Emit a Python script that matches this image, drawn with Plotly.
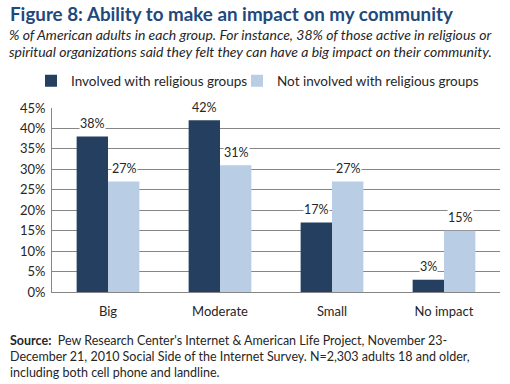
import plotly.graph_objects as go

categories = ["Big", "Moderate", "Small", "No impact"]
involved = [38, 42, 17, 3]
not_involved = [27, 31, 27, 15]
series_names = ["Involved with religious groups", "Not involved with religious groups"]
y_ticks = [0, 5, 10, 15, 20, 25, 30, 35, 40, 45]
y_tick_labels = [f"{v}%" for v in y_ticks]

title_text = "Figure 8: Ability to make an impact on my community"
subtitle_lines = [
    "% of American adults in each group. For instance, 38% of those active in religious or",
    "spiritual organizations said they felt they can have a big impact on their community.",
]
source_lines = [
    "<b>Source:</b>&nbsp; Pew Research Center's Internet &amp; American Life Project, November 23-",
    "December 21, 2010 Social Side of the Internet Survey. N=2,303 adults 18 and older,",
    "including both cell phone and landline.",
]

DARK = "#243F60"
LIGHT = "#B9CDE5"
FONT = "Lato, Open Sans, sans-serif"
TXT = "#262626"

fig = go.Figure()
fig.add_trace(go.Bar(x=categories, y=involved, name=series_names[0], legend="legend",
                     marker=dict(color=DARK, line=dict(width=0))))
fig.add_trace(go.Bar(x=categories, y=not_involved, name=series_names[1], legend="legend2",
                     marker=dict(color=LIGHT, line=dict(width=0))))

annotations = []
for vals, shift in ((involved, -16), (not_involved, 16)):
    for c, v in zip(categories, vals):
        annotations.append(dict(x=c, y=v, xref="x", yref="y", text=f"{v}%",
                                showarrow=False, xshift=shift, yshift=13,
                                yanchor="middle", bgcolor="white", borderpad=0,
                                font=dict(family=FONT, size=12.5, color=TXT)))

# helpers: page pixel -> paper coordinate (plot area spans x 52..500, y 108..292)
H = 184.0
def py(p):
    return (292 - p) / H
def px(p):
    return (p - 52) / 448.0

annotations.append(dict(x=px(9), y=py(14), xref="paper", yref="paper", text=f"<b>{title_text}</b>",
                        showarrow=False, xanchor="left", yanchor="middle", borderpad=0,
                        font=dict(family=FONT, size=18.8, color="#1F497D")))
for i, line in enumerate(subtitle_lines):
    annotations.append(dict(x=px(7), y=py(34 + 17 * i), xref="paper", yref="paper",
                            text=f"<i>{line}</i>", showarrow=False, xanchor="left", yanchor="middle",
                            font=dict(family=FONT, size=14, color=TXT)))
for i, line in enumerate(source_lines):
    annotations.append(dict(x=px(8), y=py(340 + 16 * i), xref="paper", yref="paper",
                            text=line, showarrow=False, xanchor="left", yanchor="middle",
                            font=dict(family=FONT, size=12.5, color=TXT)))

legend_common = dict(orientation="h", yanchor="middle", xanchor="left",
                     font=dict(family=FONT, size=13.5, color=TXT), itemwidth=30,
                     bgcolor="rgba(0,0,0,0)", borderwidth=0)

fig.update_layout(
    template="none",
    width=510, height=384,
    margin=dict(l=52, r=10, t=108, b=92, autoexpand=False),
    paper_bgcolor="white", plot_bgcolor="white",
    barmode="group", bargap=0.44, bargroupgap=0,
    font=dict(family=FONT, size=13, color=TXT),
    showlegend=True,
    legend=dict(x=px(31), y=py(81), **legend_common),
    legend2=dict(x=px(237), y=py(81), **legend_common),
    annotations=annotations,
    xaxis=dict(automargin=False, showgrid=False, showline=True, linecolor="#868686", linewidth=1,
               ticks="outside", ticklen=7, tickcolor="rgba(0,0,0,0)",
               tickfont=dict(family=FONT, size=13, color=TXT)),
    yaxis=dict(automargin=False, range=[0, 45], tickvals=y_ticks, ticktext=y_tick_labels,
               showgrid=True, gridcolor="#868686", gridwidth=1,
               showline=True, linecolor="#868686", linewidth=1, zeroline=False,
               ticks="outside", ticklen=3, tickcolor="rgba(0,0,0,0)",
               tickfont=dict(family=FONT, size=13, color=TXT)),
)
# the page body has a default 8px margin; remove it so the figure sits at the window origin
fig.write_html("out.html", config={"displayModeBar": False},
               post_script="document.body.style.margin='0';")
